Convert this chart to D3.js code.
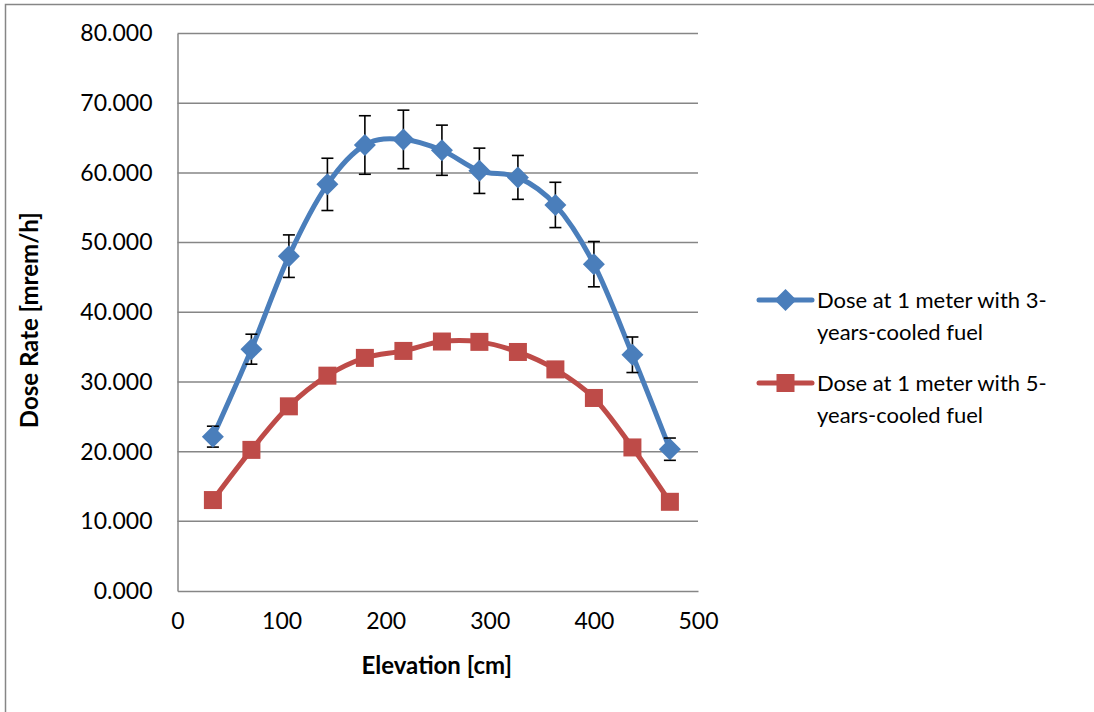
<!DOCTYPE html>
<html>
<head>
<meta charset="utf-8">
<script src="https://cdn.jsdelivr.net/npm/d3@7"></script>
<style>
  html, body { margin: 0; padding: 0; background: #fff; }
  svg { display: block; }
  text { font-family: Lato, "Open Sans", sans-serif; fill: #000; }
</style>
</head>
<body>
<svg id="chart" width="1094" height="712"></svg>
<script>
// Elevation along the fuel (cm)
const elevation = [34, 71, 107, 144, 180, 217, 254, 290, 327, 363, 400, 437, 473];
// Dose rate at 1 m, 3-years-cooled fuel (mrem/h) and its uncertainty
const dose3yr = [22.15, 34.7, 48.05, 58.35, 64.0, 64.8, 63.25, 60.3, 59.35, 55.4, 46.9, 33.9, 20.35];
const err3yr = [1.5, 2.15, 3.05, 3.75, 4.2, 4.2, 3.6, 3.25, 3.15, 3.25, 3.25, 2.55, 1.6];
// Dose rate at 1 m, 5-years-cooled fuel (mrem/h)
const dose5yr = [13.05, 20.25, 26.5, 30.9, 33.45, 34.45, 35.8, 35.75, 34.3, 31.8, 27.7, 20.6, 12.8];

const seriesNames = [
  ["Dose at 1 meter with 3-", "years-cooled fuel"],
  ["Dose at 1 meter with 5-", "years-cooled fuel"]
];
const xTicks = [0, 100, 200, 300, 400, 500];
const yTicks = [0, 10, 20, 30, 40, 50, 60, 70, 80];

const svg = d3.select("#chart");
const plotLeft = 177.5, plotRight = 698, plotTop = 33.5, plotBottom = 591;
const gridColor = "#868686";
const blue = "#4a7ebb", red = "#be4b48";

const x = d3.scaleLinear().domain([0, 500]).range([plotLeft, plotRight]);
const y = d3.scaleLinear().domain([0, 80]).range([plotBottom, plotTop]);

// chart frame
svg.append("path")
  .attr("d", `M5.5,712 L5.5,4.5 L1094,4.5`)
  .attr("fill", "none").attr("stroke", gridColor).attr("stroke-width", 1.5);

// horizontal gridlines
svg.append("g").selectAll("line").data(yTicks.filter(d => d > 0)).join("line")
  .attr("x1", plotLeft).attr("x2", plotRight)
  .attr("y1", d => y(d)).attr("y2", d => y(d))
  .attr("stroke", gridColor).attr("stroke-width", 1.5);

// axes
const yAxis = svg.append("g").attr("transform", `translate(${plotLeft},0)`)
  .call(d3.axisLeft(y).tickValues(yTicks).tickFormat(d3.format(".3f")).tickSize(0).tickPadding(25));
const xAxis = svg.append("g").attr("transform", `translate(0,${plotBottom})`)
  .call(d3.axisBottom(x).tickValues(xTicks).tickFormat(d3.format("d")).tickSize(0).tickPadding(22));
[yAxis, xAxis].forEach(g => {
  g.select(".domain").attr("stroke", gridColor).attr("stroke-width", 1.5);
  g.selectAll("text").attr("font-size", 23).attr("font-family", "Lato, sans-serif").attr("fill", "#000");
});

// axis titles
svg.append("text")
  .attr("x", x(250) - 1).attr("y", 674)
  .attr("text-anchor", "middle").attr("font-size", 24).attr("font-weight", "bold")
  .text("Elevation [cm]");
svg.append("text")
  .attr("transform", `translate(38,${(plotTop + plotBottom) / 2 + 8}) rotate(-90)`)
  .attr("text-anchor", "middle").attr("font-size", 24).attr("font-weight", "bold")
  .text("Dose Rate [mrem/h]");

const line = d3.line()
  .x(d => x(d[0])).y(d => y(d[1]))
  .curve(d3.curveCardinal.tension(0));

const pts3 = elevation.map((e, i) => [e, dose3yr[i], err3yr[i]]);
const pts5 = elevation.map((e, i) => [e, dose5yr[i]]);

// 5-years-cooled series
svg.append("path").datum(pts5).attr("d", line)
  .attr("fill", "none").attr("stroke", red).attr("stroke-width", 5).attr("stroke-linejoin", "round");
const sq = 18;
svg.append("g").selectAll("rect").data(pts5).join("rect")
  .attr("x", d => x(d[0]) - sq / 2).attr("y", d => y(d[1]) - sq / 2)
  .attr("width", sq).attr("height", sq).attr("fill", red);

// 3-years-cooled series
svg.append("path").datum(pts3).attr("d", line)
  .attr("fill", "none").attr("stroke", blue).attr("stroke-width", 5).attr("stroke-linejoin", "round");

// error bars
const cap = 6;
const eb = svg.append("g").attr("stroke", "#000").attr("stroke-width", 1.6);
eb.selectAll("line.v").data(pts3).join("line").attr("class", "v")
  .attr("x1", d => x(d[0])).attr("x2", d => x(d[0]))
  .attr("y1", d => y(d[1] + d[2])).attr("y2", d => y(d[1] - d[2]));
eb.selectAll("line.t").data(pts3).join("line").attr("class", "t")
  .attr("x1", d => x(d[0]) - cap).attr("x2", d => x(d[0]) + cap)
  .attr("y1", d => y(d[1] + d[2])).attr("y2", d => y(d[1] + d[2]));
eb.selectAll("line.b").data(pts3).join("line").attr("class", "b")
  .attr("x1", d => x(d[0]) - cap).attr("x2", d => x(d[0]) + cap)
  .attr("y1", d => y(d[1] - d[2])).attr("y2", d => y(d[1] - d[2]));

const dm = 11;
const diamond = (cx, cy) => `M${cx},${cy - dm} L${cx + dm},${cy} L${cx},${cy + dm} L${cx - dm},${cy} Z`;
svg.append("g").selectAll("path").data(pts3).join("path")
  .attr("d", d => diamond(x(d[0]), y(d[1]))).attr("fill", blue);

// legend
const legend = svg.append("g");
const legendRows = [
  { color: blue, marker: "diamond", y: 300, names: seriesNames[0] },
  { color: red, marker: "square", y: 383, names: seriesNames[1] }
];
legendRows.forEach(r => {
  legend.append("line").attr("x1", 759).attr("x2", 812).attr("y1", r.y).attr("y2", r.y)
    .attr("stroke", r.color).attr("stroke-width", 5).attr("stroke-linecap", "round");
  if (r.marker === "diamond") {
    legend.append("path").attr("d", diamond(785.5, r.y)).attr("fill", r.color);
  } else {
    legend.append("rect").attr("x", 785.5 - sq / 2).attr("y", r.y - sq / 2)
      .attr("width", sq).attr("height", sq).attr("fill", r.color);
  }
  r.names.forEach((t, i) => {
    legend.append("text").attr("x", 817).attr("y", r.y + 8 + i * 32)
      .attr("font-size", 22).text(t);
  });
});
</script>
</body>
</html>
